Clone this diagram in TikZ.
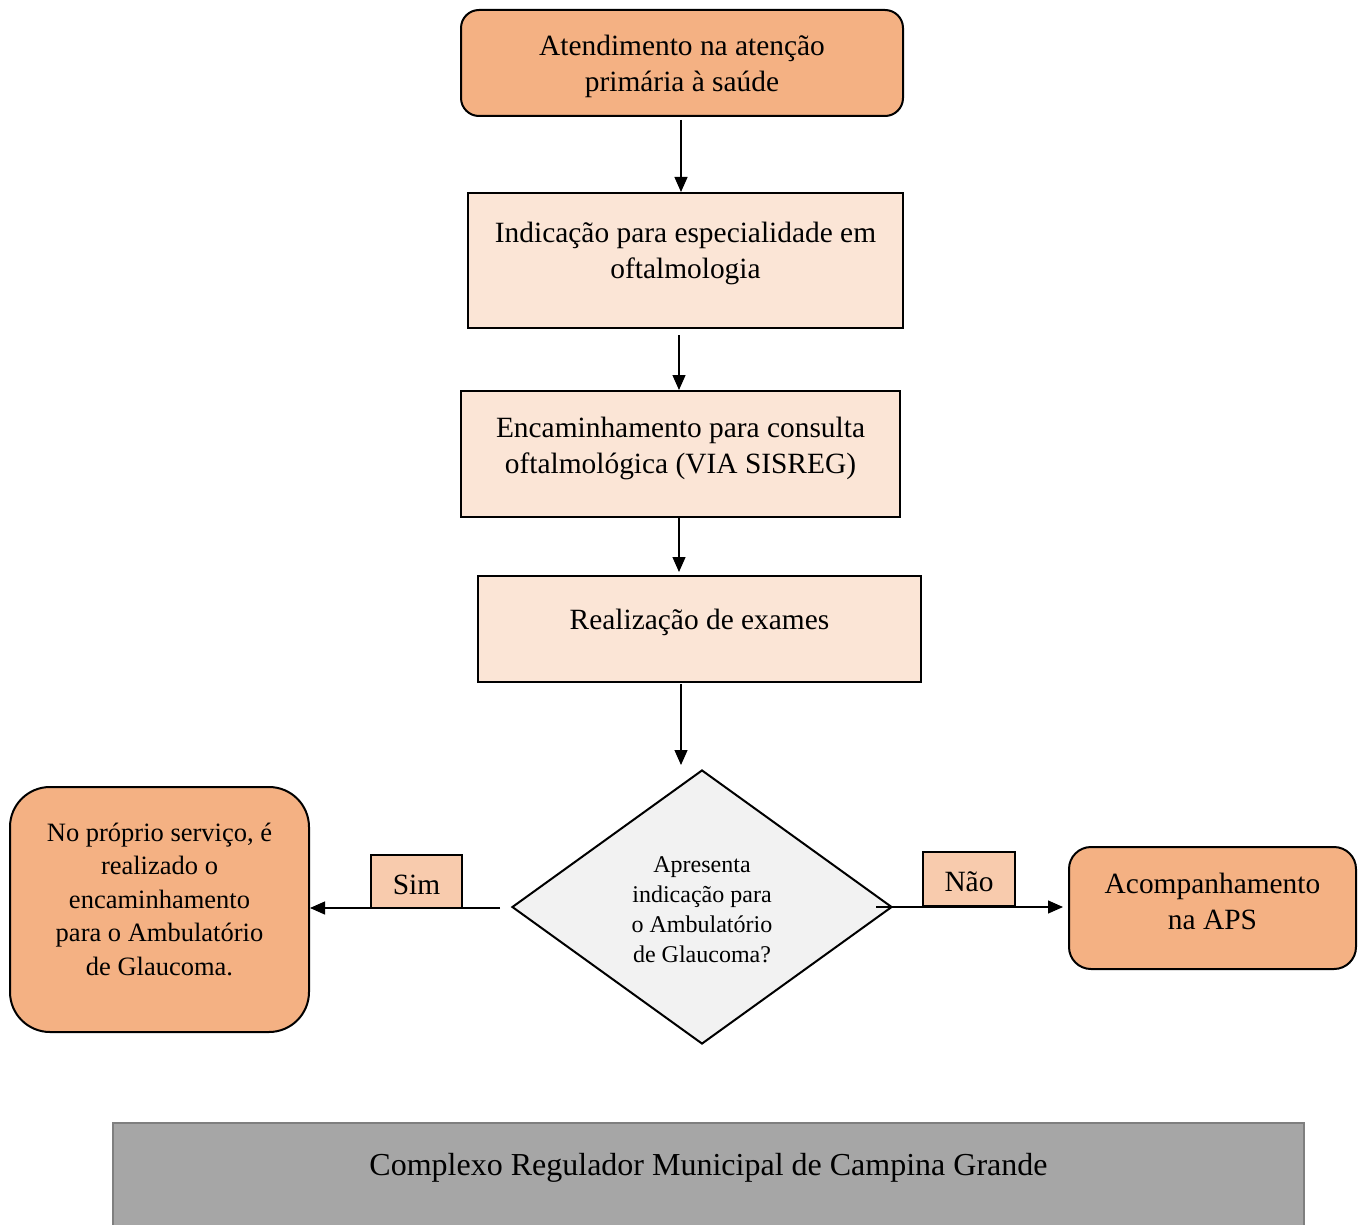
\documentclass[tikz,border=0pt]{standalone}
\usepackage{fontspec}
\setmainfont{Liberation Serif}
\usetikzlibrary{shapes.geometric,arrows.meta}
\definecolor{orangeA}{HTML}{F4B183}
\definecolor{orangeL}{HTML}{FBE5D6}
\definecolor{orangeM}{HTML}{F8CBAD}
\definecolor{grayL}{HTML}{F2F2F2}
\definecolor{grayB}{HTML}{A6A6A6}
\definecolor{grayD}{HTML}{7F7F7F}
\begin{document}
\begin{tikzpicture}[x=1pt,y=-1pt,
  box/.style={draw=black, line width=2pt, inner sep=0pt},
  txt/.style={align=center, inner sep=0pt, font=\fontsize{29.4}{36}\selectfont},
  arr/.style={line width=1.3pt, -{Triangle[length=15pt,width=13pt]}},
  plain/.style={line width=1.3pt}]
\useasboundingbox (0,0) rectangle (1362,1225);
% boxes
\node[box, fill=orangeA, rounded corners=18pt, minimum width=442pt, minimum height=106pt] (b1) at (682,63) {};
\node[txt] (t1) at (682,66) {Atendimento na atenção\\primária à saúde};
\node[box, fill=orangeL, minimum width=435pt, minimum height=135pt] (b2) at (685.5,260.5) {};
\node[txt] (t2) at (685.5,253) {Indicação para especialidade em\\oftalmologia};
\node[box, fill=orangeL, minimum width=439pt, minimum height=126pt] (b3) at (680.5,454) {};
\node[txt] (t3) at (680.5,448) {Encaminhamento para consulta\\oftalmológica (VIA SISREG)};
\node[box, fill=orangeL, minimum width=443pt, minimum height=106pt] (b4) at (699.5,629) {};
\node[txt] (t4) at (699.5,622) {Realização de exames};
% decision
\node[draw=black, line width=2pt, fill=grayL, diamond, aspect=1.387, inner sep=0pt, minimum width=380pt, minimum height=274pt] (d) at (702,907) {};
\node[txt, font=\fontsize{24}{30}\selectfont] (td) at (702,910) {Apresenta\\indicação para\\o Ambulatório\\de Glaucoma?};
% outcomes
\node[box, fill=orangeA, rounded corners=40pt, minimum width=299pt, minimum height=245pt] (lb) at (159.5,909.5) {};
\node[txt, font=\fontsize{26.5}{33.5}\selectfont] (tl) at (159.5,899) {No próprio serviço, é\\realizado o\\encaminhamento\\para o Ambulatório\\de Glaucoma.};
\node[box, fill=orangeA, rounded corners=22pt, minimum width=287pt, minimum height=122pt] (rb) at (1212.5,908) {};
\node[txt] (tr) at (1212.5,901) {Acompanhamento\\na APS};
% connectors
\coordinate (a1s) at (681,120);
\coordinate (a2s) at (679,335);
\coordinate (a3e) at (679,572);
\coordinate (a4s) at (681,684);
\coordinate (a4e) at (681,765);
\draw[arr] (a1s) -- (a1s |- b2.north);
\draw[arr] (a2s) -- (a2s |- b3.north);
\draw[arr] (b3.south -| a3e) -- (a3e);
\draw[arr] (a4s) -- (a4e);
\coordinate (sims) at (500,908);
\coordinate (naos) at (876,907);
\coordinate (naoe) at (1063,907);
\draw[arr] (sims) -- (lb.east |- sims);
\draw[arr] (naos) -- (naoe);
% labels
\node[box, fill=orangeM, minimum width=91pt, minimum height=53pt] (sim) at (416.5,881.5) {};
\node[txt] (tsim) at (416.5,885) {Sim};
\node[box, fill=orangeM, minimum width=92pt, minimum height=54pt] (nao) at (969,879) {};
\node[txt] (tnao) at (969,882) {Não};
% bottom band
\node[draw=grayD, line width=2pt, fill=grayB, inner sep=0pt, minimum width=1191pt, minimum height=130pt] (cr) at (708.5,1188) {};
\node[txt, font=\fontsize{32}{38}\selectfont] (tcr) at (708.5,1168) {Complexo Regulador Municipal de Campina Grande};
\end{tikzpicture}
\end{document}
